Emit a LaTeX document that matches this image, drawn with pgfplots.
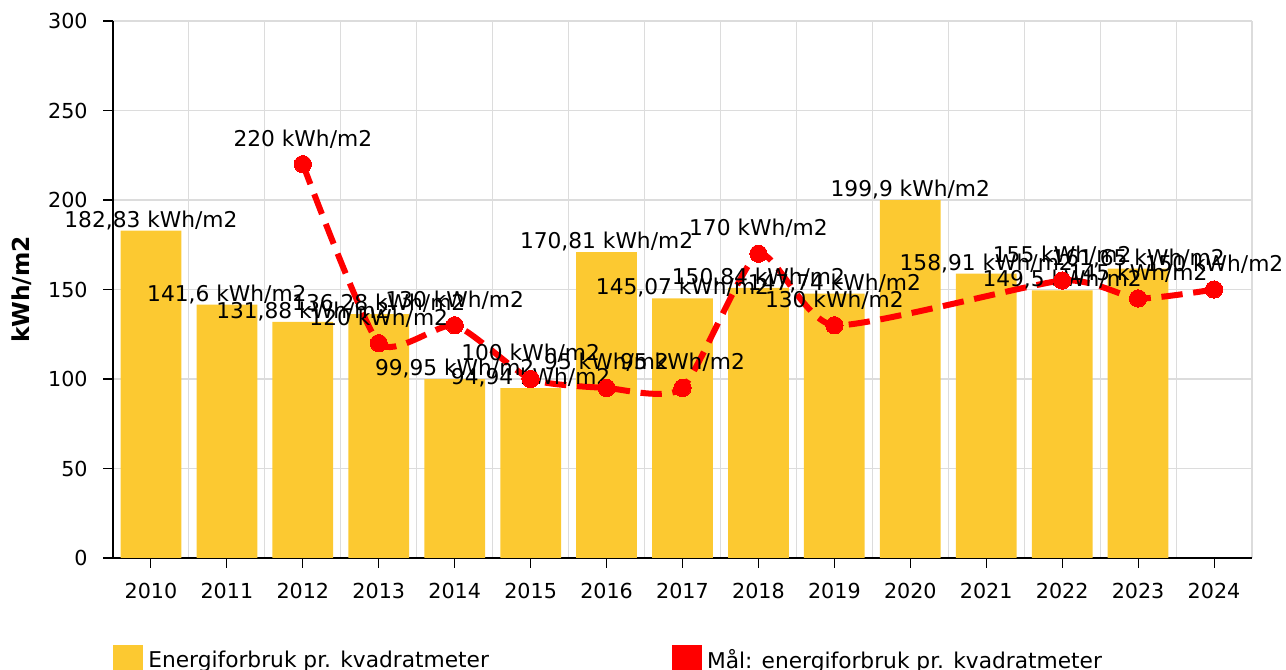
\documentclass[border=0pt]{standalone}
\usepackage{pgfplots}
\pgfplotsset{compat=1.18}
\usepackage{fontspec}
\setmainfont{DejaVu Sans}
\definecolor{baryellow}{HTML}{FCC931}
\definecolor{tred}{HTML}{FF0000}
\definecolor{gridgray}{HTML}{DCDCDC}
\begin{document}
\begin{tikzpicture}
\begin{axis}[
  at={(0,0)}, anchor=south west,
  scale only axis, width=854.25pt, height=402.75pt,
  xmin=-0.5, xmax=14.5, ymin=0, ymax=300,
  axis x line*=bottom, axis y line*=left,
  axis line style={black, line width=1pt, -},
  font=\fontsize{15.5}{18}\selectfont,
  /pgf/number format/assume math mode=true,
  xtick={0,...,14},
  xticklabels={2010,2011,2012,2013,2014,2015,2016,2017,2018,2019,2020,2021,2022,2023,2024},
  minor xtick={-0.5,0.5,...,14.5},
  xminorgrids, ymajorgrids,
  ytick={0,50,...,300},
  tick align=outside,
  major tick length=7.5pt, minor tick length=0pt,
  tick style={black, line width=0.8pt},
  grid style={gridgray, line width=0.8pt},
  minor grid style={gridgray, line width=0.8pt},
  xticklabel style={yshift=-8pt},
  yticklabel style={xshift=-8pt},
  ylabel={kWh/m2},
  ylabel style={font=\fontsize{17.5}{20}\selectfont\bfseries, at={(axis description cs:-0.08,0.5)}, anchor=center},
  clip=false,
  legend columns=2,
  legend cell align=left,
  legend style={at={(axis description cs:0,0)}, anchor=north west, yshift=-65.25pt,
    draw=none, fill=none, inner sep=0pt, outer sep=0pt,
    font=\fontsize{16.3}{19}\selectfont,
    /tikz/every even column/.append style={column sep=135pt},
    /tikz/every odd column/.append style={column sep=2pt}},
  /pgf/number format/.cd, use comma, fixed, precision=2, 1000 sep={},
]
\addplot[ybar, bar width=0.8, bar shift=0pt, fill=baryellow, draw=none,
  point meta=y,
  nodes near coords={\pgfmathprintnumber{\pgfplotspointmeta}~kWh/m2},
  every node near coord/.append style={font=\fontsize{16.3}{19}\selectfont, inner sep=0.5pt, anchor=south, black},
  legend image code/.code={\fill[baryellow, draw=none] (0pt,-11.25pt) rectangle (22.5pt,11.25pt);}]
coordinates {
(0,182.83) (1,141.6) (2,131.88) (3,136.28) (4,99.95) (5,94.94) (6,170.81)
(7,145.07) (8,150.84) (9,147.74) (10,199.9) (11,158.91) (12,149.5) (13,161.65)
};
\addlegendentry{Energiforbruk pr. kvadratmeter}
\addplot[tred, line width=4.5pt, dash pattern=on 16pt off 8pt, smooth, tension=0.35,
  mark=*, mark size=6.5pt, mark options={solid, fill=tred, draw=tred, line width=0pt},
  point meta=y,
  nodes near coords={\pgfmathprintnumber{\pgfplotspointmeta}~kWh/m2},
  every node near coord/.append style={font=\fontsize{16.3}{19}\selectfont, inner sep=0.5pt, anchor=south, yshift=11.5pt, black},
  legend image code/.code={\fill[tred, draw=none, solid, line width=0pt] (0pt,-11.25pt) rectangle (22.5pt,11.25pt);}]
coordinates {
(2,220) (3,120) (4,130) (5,100) (6,95) (7,95) (8,170) (9,130) (12,155) (13,145) (14,150)
};
\addlegendentry{Mål: energiforbruk pr. kvadratmeter}
\end{axis}
\pgfresetboundingbox
\path[use as bounding box] (-84.75pt,-84pt) rectangle (879.75pt,418.5pt);
\end{tikzpicture}
\end{document}
